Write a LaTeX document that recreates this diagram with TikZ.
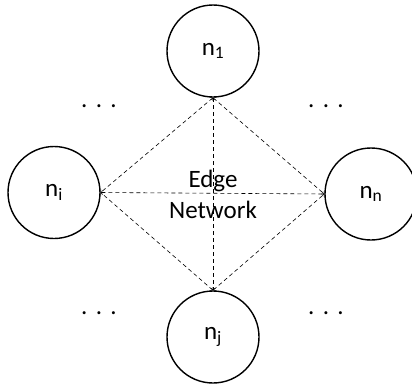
\documentclass[tikz,border=0pt]{standalone}
\usepackage{fontspec}
\setmainfont{Carlito}
\usetikzlibrary{arrows}
\usetikzlibrary{calc}

\begin{document}
\begin{tikzpicture}[x=1pt, y=-1pt,
  peer/.style={draw, circle, line width=1.4pt, minimum size=92pt, inner sep=0pt, font=\fontsize{25}{30}\selectfont},
  link/.style={<->, >=to, line width=0.6pt, dash pattern=on 4pt off 3pt}]
\useasboundingbox (0,0) rectangle (412,383);
\node[peer] (n1) at (213,51) {n\textsubscript{1}};
\node[peer] (ni) at (54,192.5) {n\textsubscript{i}};
\node[peer] (nn) at (371,194) {n\textsubscript{n}};
\node[peer] (nj) at (213,337) {n\textsubscript{j}};
\node[align=center, font=\fontsize{25}{31}\selectfont] (edge) at (213,194) {Edge\\Network};
\draw[link] (n1.south) -- (ni.east);
\draw[link] (n1.south) -- (nn.west);
\draw[link] (n1.south) -- (nj.north);
\draw[link] (ni.east) -- (nn.west);
\draw[link] (nj.north) -- (ni.east);
\draw[link] (nj.north) -- (nn.west);
\foreach \x/\y in {99/106, 326/106, 99/313, 326/313} {
 \node[font=\fontsize{25}{30}\selectfont] at (\x,\y) {.\,\,.\,\,.};
}
\end{tikzpicture}
\end{document}
